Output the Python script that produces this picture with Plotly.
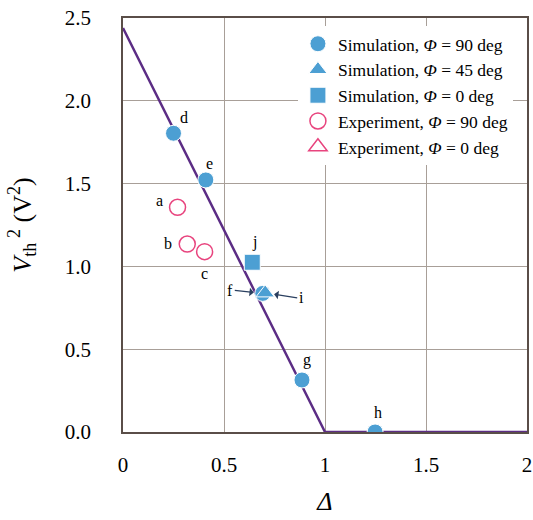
import plotly.graph_objects as go

# Theory line
line_x = [0, 1, 2]
line_y = [2.44, 0, 0]

# Simulation, Phi = 90 deg  (d, e, f, g, h)
sim90_x = [0.250, 0.410, 0.692, 0.886, 1.248]
sim90_y = [1.804, 1.522, 0.837, 0.314, 0.0]
# Simulation, Phi = 45 deg (i)
sim45_x = [0.704]
sim45_y = [0.840]
# Simulation, Phi = 0 deg (j)
sim0_x = [0.640]
sim0_y = [1.025]
# Experiment, Phi = 90 deg (a, b, c)
exp90_x = [0.270, 0.318, 0.404]
exp90_y = [1.357, 1.135, 1.089]
# Experiment, Phi = 0 deg (none visible)
exp0_x = [None]
exp0_y = [None]

# point labels
lab_text = ["d", "e", "a", "b", "c", "j", "g", "h"]
lab_x = [0.302, 0.426, 0.183, 0.223, 0.401, 0.649, 0.911, 1.262]
lab_y = [1.902, 1.624, 1.400, 1.141, 0.960, 1.147, 0.435, 0.115]

tick_x = [0, 0.5, 1, 1.5, 2]
tick_x_text = ["0", "0.5", "1", "1.5", "2"]
tick_y = [0, 0.5, 1.0, 1.5, 2.0, 2.5]
tick_y_text = ["0.0", "0.5", "1.0", "1.5", "2.0", "2.5"]

BLUE = "#4c9fd3"
PINK = "#e8447e"
PURPLE = "#5c2d85"
FONT = "Liberation Serif"

fig = go.Figure()
fig.add_trace(go.Scatter(x=line_x, y=line_y, mode="lines",
                         line=dict(color=PURPLE, width=2.5), showlegend=False))
fig.add_trace(go.Scatter(x=sim90_x, y=sim90_y, mode="markers",
                         name="Simulation, <i>Φ</i> = 90 deg",
                         marker=dict(symbol="circle", size=16, color=BLUE,
                                     line=dict(color="white", width=1))))
fig.add_trace(go.Scatter(x=sim45_x, y=sim45_y, mode="markers",
                         name="Simulation, <i>Φ</i> = 45 deg",
                         marker=dict(symbol="triangle-up", size=16, color=BLUE,
                                     line=dict(color="white", width=1))))
fig.add_trace(go.Scatter(x=sim0_x, y=sim0_y, mode="markers",
                         name="Simulation, <i>Φ</i> = 0 deg",
                         marker=dict(symbol="square", size=16, color=BLUE,
                                     line=dict(color="white", width=1))))
fig.add_trace(go.Scatter(x=exp90_x, y=exp90_y, mode="markers",
                         name="Experiment, <i>Φ</i> = 90 deg",
                         marker=dict(symbol="circle-open", size=16, color=PINK,
                                     line=dict(color=PINK, width=1.5))))
fig.add_trace(go.Scatter(x=exp0_x, y=exp0_y, mode="markers",
                         name="Experiment, <i>Φ</i> = 0 deg",
                         marker=dict(symbol="triangle-up-open", size=16, color=PINK,
                                     line=dict(color=PINK, width=1.5))))

annotations = []
for t, x, y in zip(lab_text, lab_x, lab_y):
    annotations.append(dict(x=x, y=y, text=t, showarrow=False,
                            font=dict(family=FONT, size=16, color="black")))
# arrows for f and i
annotations.append(dict(x=sim90_x[2], y=sim90_y[2], ax=-28, ay=-3, text="f",
                        showarrow=True, arrowhead=1, arrowsize=1.2, arrowwidth=1.2,
                        standoff=9, xanchor="right",
                        font=dict(family=FONT, size=16, color="black")))
annotations.append(dict(x=sim45_x[0], y=sim45_y[0], ax=32, ay=5, text="i",
                        showarrow=True, arrowhead=1, arrowsize=1.2, arrowwidth=1.2,
                        standoff=9, xanchor="left",
                        font=dict(family=FONT, size=16, color="black")))
fig.update_layout(annotations=annotations)

fig.update_layout(
    width=533, height=520,
    margin=dict(l=123, r=6, t=18, b=88),
    plot_bgcolor="white", paper_bgcolor="white",
    font=dict(family=FONT, size=21, color="black"),
    legend=dict(x=0.433, y=0.981, xanchor="left", yanchor="top",
                bgcolor="white", font=dict(family=FONT, size=17.5),
                tracegroupgap=0, itemwidth=30),
    xaxis=dict(range=[0, 2], tickvals=tick_x, ticktext=tick_x_text,
               showgrid=True, gridcolor="#a89f98", gridwidth=1,
               showline=True, linecolor="#5a4e48", linewidth=1.5, mirror=True,
               zeroline=False, ticks="", ticklen=0, automargin=False,
               ticklabelstandoff=13, ticklabeloverflow="allow",
               title=dict(text="<i>Δ</i>", font=dict(size=26), standoff=16)),
    yaxis=dict(range=[0, 2.5], tickvals=tick_y, ticktext=tick_y_text,
               showgrid=True, gridcolor="#a89f98", gridwidth=1,
               showline=True, linecolor="#5a4e48", linewidth=1.5, mirror=True,
               zeroline=False, ticks="", ticklen=0, automargin=False,
               ticklabelstandoff=26, ticklabeloverflow="allow",
               title=dict(text="<i>V</i><sub>th</sub><sup> 2</sup> (V<sup>2</sup>)",
                          font=dict(size=26), standoff=26)),
)

fig.write_html("out.html", config={"displayModeBar": False},
               post_script="document.body.style.margin='0';")
